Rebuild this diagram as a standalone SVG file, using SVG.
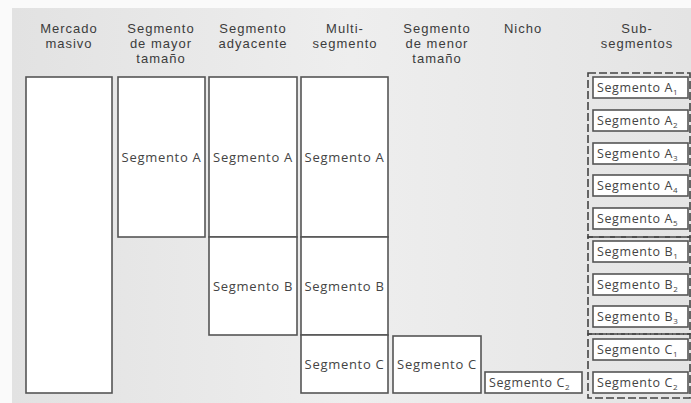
<svg xmlns="http://www.w3.org/2000/svg" width="691" height="403" viewBox="0 0 691 403">
<defs>
<linearGradient id="bg" x1="0" y1="0" x2="1" y2="0">
<stop offset="0" stop-color="#e2e2e2"/>
<stop offset="0.5" stop-color="#eeeeee"/>
<stop offset="1" stop-color="#e4e4e4"/>
</linearGradient>
</defs>
<style>
.hd{font-family:"Liberation Sans",Arial,sans-serif;font-size:13px;letter-spacing:1px;fill:#3c3c3c;text-anchor:middle}
.lb{font-family:"Open Sans","Liberation Sans",sans-serif;font-size:13px;letter-spacing:0.7px;fill:#444;text-anchor:middle}
.sb{font-family:"Open Sans","Liberation Sans",sans-serif;font-size:12.5px;letter-spacing:0.6px;fill:#444}
.sub{font-size:8px;letter-spacing:0}
.bx{fill:#fff;stroke:#555;stroke-width:1.6}
.ds{fill:none;stroke:#444;stroke-width:1.6;stroke-dasharray:8 3}
</style>
<rect x="0" y="0" width="691" height="403" fill="#fafafa"/>
<rect x="12" y="8" width="679" height="395" fill="url(#bg)"/>

<g id="headers">
<text class="hd" x="69" y="33">Mercado</text>
<text class="hd" x="69" y="48">masivo</text>
<text class="hd" x="161" y="33">Segmento</text>
<text class="hd" x="161" y="48">de mayor</text>
<text class="hd" x="161" y="63">tamaño</text>
<text class="hd" x="253" y="33">Segmento</text>
<text class="hd" x="253" y="48">adyacente</text>
<text class="hd" x="345" y="33">Multi-</text>
<text class="hd" x="345" y="48">segmento</text>
<text class="hd" x="437" y="33">Segmento</text>
<text class="hd" x="437" y="48">de menor</text>
<text class="hd" x="437" y="63">tamaño</text>
<text class="hd" x="523" y="33">Nicho</text>
<text class="hd" x="637" y="33">Sub-</text>
<text class="hd" x="637" y="48">segmentos</text>
</g>

<g id="mercado-masivo">
<rect class="bx" x="26" y="77" width="86" height="316"/>
</g>

<g id="mayor-A">
<rect class="bx" x="118" y="77" width="87" height="160"/>
<text class="lb" x="161.5" y="162">Segmento A</text>
</g>

<g id="adyacente-A">
<rect class="bx" x="209" y="77" width="88" height="160"/>
<text class="lb" x="253" y="162">Segmento A</text>
</g>
<g id="adyacente-B">
<rect class="bx" x="209" y="237" width="88" height="98"/>
<text class="lb" x="253" y="291">Segmento B</text>
</g>

<g id="multi-A">
<rect class="bx" x="301" y="77" width="87" height="160"/>
<text class="lb" x="344.5" y="162">Segmento A</text>
</g>
<g id="multi-B">
<rect class="bx" x="301" y="237" width="87" height="98"/>
<text class="lb" x="344.5" y="291">Segmento B</text>
</g>
<g id="multi-C">
<rect class="bx" x="301" y="335" width="87" height="58"/>
<text class="lb" x="344.5" y="369">Segmento C</text>
</g>

<g id="menor-C">
<rect class="bx" x="393" y="336" width="88" height="57"/>
<text class="lb" x="437" y="369">Segmento C</text>
</g>

<g id="nicho-C2">
<rect class="bx" x="485" y="372" width="97" height="21"/>
<text class="sb" x="489" y="387">Segmento C<tspan class="sub" dy="3">2</tspan></text>
</g>

<g id="subsegmentos">
<rect class="ds" x="588" y="73" width="102" height="164"/>
<rect class="ds" x="588" y="237" width="102" height="97"/>
<rect class="ds" x="588" y="334" width="102" height="64"/>
</g>

<g id="sub-A1"><rect class="bx" x="593" y="77" width="95" height="21"/><text class="sb" x="597" y="92">Segmento A<tspan class="sub" dy="3">1</tspan></text></g>
<g id="sub-A2"><rect class="bx" x="593" y="110" width="95" height="21"/><text class="sb" x="597" y="125">Segmento A<tspan class="sub" dy="3">2</tspan></text></g>
<g id="sub-A3"><rect class="bx" x="593" y="143" width="95" height="21"/><text class="sb" x="597" y="158">Segmento A<tspan class="sub" dy="3">3</tspan></text></g>
<g id="sub-A4"><rect class="bx" x="593" y="175" width="95" height="21"/><text class="sb" x="597" y="190">Segmento A<tspan class="sub" dy="3">4</tspan></text></g>
<g id="sub-A5"><rect class="bx" x="593" y="208" width="95" height="21"/><text class="sb" x="597" y="223">Segmento A<tspan class="sub" dy="3">5</tspan></text></g>
<g id="sub-B1"><rect class="bx" x="593" y="241" width="95" height="21"/><text class="sb" x="597" y="256">Segmento B<tspan class="sub" dy="3">1</tspan></text></g>
<g id="sub-B2"><rect class="bx" x="593" y="274" width="95" height="21"/><text class="sb" x="597" y="289">Segmento B<tspan class="sub" dy="3">2</tspan></text></g>
<g id="sub-B3"><rect class="bx" x="593" y="306" width="95" height="21"/><text class="sb" x="597" y="321">Segmento B<tspan class="sub" dy="3">3</tspan></text></g>
<g id="sub-C1"><rect class="bx" x="593" y="339" width="95" height="21"/><text class="sb" x="597" y="354">Segmento C<tspan class="sub" dy="3">1</tspan></text></g>
<g id="sub-C2"><rect class="bx" x="593" y="372" width="95" height="21"/><text class="sb" x="597" y="387">Segmento C<tspan class="sub" dy="3">2</tspan></text></g>

<g id="connectors"></g>
</svg>
